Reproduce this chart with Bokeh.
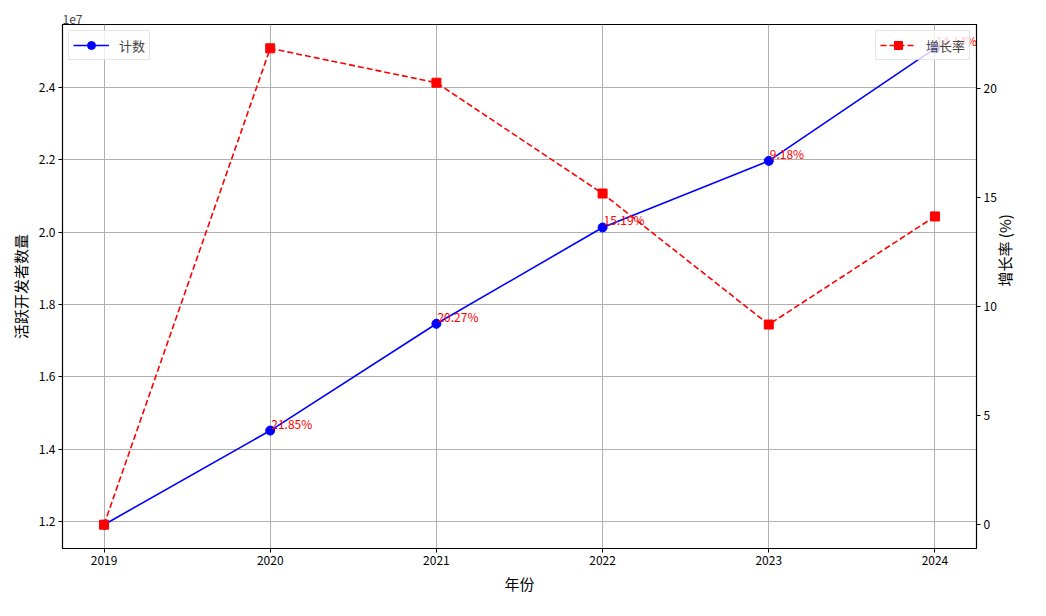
from bokeh.plotting import figure
from bokeh.models import (Range1d, LinearAxis, Legend, LegendItem, FixedTicker,
                          CustomJSTickFormatter, ColumnDataSource)
from bokeh.embed import file_html
from bokeh.resources import INLINE
from bokeh.core.properties import value

years = [2019, 2020, 2021, 2022, 2023, 2024]
counts = [11920000, 14520000, 17470000, 20130000, 21970000, 25080000]
growth = [0.0, 21.85, 20.27, 15.19, 9.18, 14.14]
count_ticks = [12000000, 14000000, 16000000, 18000000, 20000000, 22000000, 24000000]
growth_ticks = [0, 5, 10, 15, 20]

FONT = "Noto Sans CJK SC"

def padded(vals, frac=0.05):
    lo, hi = min(vals), max(vals)
    m = (hi - lo) * frac
    return lo - m, hi + m

xlo, xhi = padded(years)
clo, chi = padded(counts)
glo, ghi = padded(growth)

p = figure(width=1030, height=600, output_backend="svg", toolbar_location=None,
           x_range=Range1d(xlo, xhi), y_range=Range1d(clo, chi),
           min_border_left=62, min_border_right=54, min_border_top=24, min_border_bottom=52)
p.extra_y_ranges = {"growth": Range1d(glo, ghi)}

p.background_fill_color = "white"
p.border_fill_color = "white"
p.outline_line_color = "black"
p.outline_line_width = 1.2

p.title.text = "1e7"
p.title.align = "left"
p.title.text_font = FONT
p.title.text_font_size = "12px"
p.title.text_font_style = "normal"
p.title.offset = 0
p.title.standoff = 1

src = ColumnDataSource(dict(x=years, c=counts, g=growth,
                            lab=["" if i == 0 else f"{v:.2f}%" for i, v in enumerate(growth)]))

l1 = p.line("x", "c", source=src, line_color="blue", line_width=1.6)
m1 = p.scatter("x", "c", source=src, marker="circle", size=9, fill_color="blue", line_color="blue")

l2 = p.line("x", "g", source=src, y_range_name="growth", line_color="red", line_width=1.6, line_dash="6 3")
m2 = p.scatter("x", "g", source=src, y_range_name="growth", marker="square", size=9,
               fill_color="red", line_color="red")

p.text("x", "c", text="lab", source=src, text_color="red", text_font_size="12px",
       text_align="left", text_baseline="bottom", x_offset=1, y_offset=1, text_font=value(FONT))

# axes
p.xaxis.ticker = FixedTicker(ticks=years)
p.xaxis.axis_label = "年份"
p.yaxis.ticker = FixedTicker(ticks=count_ticks)
p.yaxis.formatter = CustomJSTickFormatter(code="return (tick/1e7).toFixed(1);")
p.yaxis.axis_label = "活跃开发者数量"

ax2 = LinearAxis(y_range_name="growth", axis_label="增长率 (%)", ticker=FixedTicker(ticks=growth_ticks))
p.add_layout(ax2, "right")
ax2.axis_label_orientation = 1.5708

for ax in p.xaxis + p.yaxis + [ax2]:
    ax.major_label_text_font = FONT
    ax.major_label_text_font_size = "12px"
    ax.axis_label_text_font = FONT
    ax.axis_label_text_font_size = "15px"
    ax.axis_label_text_font_style = "normal"
    ax.minor_tick_line_color = None
    ax.major_tick_out = 4
    ax.major_tick_in = 0
    ax.major_label_standoff = 3
    ax.axis_line_color = "black"
    ax.major_tick_line_color = "black"
    ax.major_label_text_color = "black"
    ax.axis_label_text_color = "black"
    ax.axis_label_standoff = 5

p.xgrid.grid_line_color = "#b0b0b0"
p.ygrid.grid_line_color = "#b0b0b0"
p.xgrid.grid_line_width = 1
p.ygrid.grid_line_width = 1

leg1 = Legend(items=[LegendItem(label="计数", renderers=[l1, m1])], location="top_left")
leg2 = Legend(items=[LegendItem(label="增长率", renderers=[l2, m2])], location="top_right")
for lg in (leg1, leg2):
    lg.label_text_font = FONT
    lg.label_text_font_size = "13px"
    lg.border_line_color = "#cccccc"
    lg.background_fill_alpha = 0.8
    lg.margin = 6
    lg.padding = 4
    lg.spacing = 2
    lg.glyph_width = 36
    lg.label_standoff = 10
    p.add_layout(lg)

open("out.html", "w").write(file_html(p, INLINE))
